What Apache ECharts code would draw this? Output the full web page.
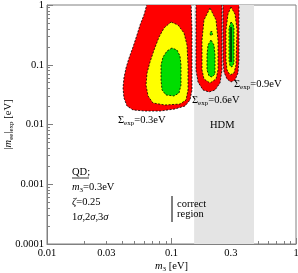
<!DOCTYPE html>
<html><head><meta charset="utf-8">
<script src="https://cdn.jsdelivr.net/npm/echarts@6/dist/echarts.min.js"></script>
<style>html,body{margin:0;padding:0;background:#fff}#c{width:298px;height:273px}</style>
</head><body><div id="c"></div>
<script>
// ---- tick labels ----
const xTickLabels = [0.01, 0.03, 0.1, 0.3, 1];
const yTickLabels = [0.0001, 0.001, 0.01, 0.1, 1];
const xMajor = [0.01, 0.1, 1];
const yMajor = [0.0001, 0.001, 0.01, 0.1, 1];
// ---- HDM band (m3 range) ----
const hdmRange = [0.152, 0.46];
// ---- contours [m3, |mee|] ----
const red1 = [[0.0648,1.2],[0.0601,0.6805],[0.0559,0.4627],[0.0528,0.3147],[0.0491,0.1982],[0.0456,0.1297],[0.0431,0.0882],[0.0415,0.0600],[0.0408,0.0408],[0.0415,0.0278],[0.0439,0.0204],[0.0491,0.0175],[0.0613,0.0168],[0.0809,0.0168],[0.1067,0.0182],[0.1284,0.0204],[0.1408,0.0257],[0.1461,0.0378],[0.1461,0.1201],[0.1461,0.3815],[0.1434,1.2]];
const yellow1 = [[0.0991,0.5193],[0.0871,0.4121],[0.0794,0.2913],[0.0724,0.1766],[0.0672,0.1112],[0.0636,0.0728],[0.0624,0.0458],[0.0648,0.0300],[0.0710,0.0229],[0.0887,0.0212],[0.1170,0.0220],[0.1308,0.0257],[0.1357,0.0378],[0.1357,0.0990],[0.1332,0.2141],[0.1260,0.3399],[0.1128,0.4627]];
const green1 = [[0.1009,0.1907],[0.0920,0.1699],[0.0855,0.1348],[0.0824,0.0990],[0.0824,0.0556],[0.0839,0.0378],[0.0903,0.0312],[0.1047,0.0300],[0.1149,0.0337],[0.1192,0.0458],[0.1192,0.0990],[0.1170,0.1401],[0.1107,0.1766]];
const red2 = [[0.1573,1.2],[0.1573,0.2595],[0.1573,0.0817],[0.1633,0.0514],[0.1791,0.0378],[0.2001,0.0350],[0.2236,0.0378],[0.2453,0.0495],[0.2544,0.0817],[0.2544,0.2595],[0.2544,1.2]];
const yellow2 = [[0.2038,0.89],[0.1824,0.5610],[0.1758,0.2595],[0.1758,0.0817],[0.1824,0.0577],[0.2038,0.0495],[0.2278,0.0577],[0.2363,0.0817],[0.2363,0.2595],[0.2278,0.5610]];
const green2 = [[0.2076,0.2595],[0.1964,0.2141],[0.1928,0.1456],[0.1928,0.0817],[0.2001,0.0648],[0.2115,0.0624],[0.2236,0.0700],[0.2236,0.1456],[0.2195,0.2141]];
const green2b = [[0.2058,0.355],[0.2115,0.36],[0.2140,0.325],[0.2076,0.305],[0.2035,0.33]];
const red3 = [[0.2593,1.2],[0.2593,0.1201],[0.2641,0.0756],[0.2791,0.0577],[0.3006,0.0514],[0.3236,0.0556],[0.3420,0.0728],[0.3484,0.1201],[0.3484,1.2]];
const yellow3 = [[0.3006,0.926],[0.2843,0.7067],[0.2741,0.3815],[0.2741,0.1201],[0.2791,0.0817],[0.2951,0.0674],[0.3177,0.0728],[0.3296,0.0990],[0.3358,0.3815],[0.3236,0.7067]];
const green3 = [[0.3006,0.5193],[0.2896,0.4121],[0.2896,0.1201],[0.2951,0.0953],[0.3062,0.0917],[0.3177,0.1069],[0.3177,0.4121],[0.3119,0.4808]];
const core3 = [[0.3006,0.428],[0.3006,0.111]];

const RED = '#ff0000', YEL = '#ffff00', GRN = '#00dd00';
const hdm = [[hdmRange[0],1e-4],[hdmRange[1],1e-4],[hdmRange[1],1],[hdmRange[0],1]];
const polys = [
  {pts: hdm, fill: '#e4e4e4', stroke: null},
  {pts: red1, fill: RED, stroke: '#000'},
  {pts: red2, fill: RED, stroke: '#000'},
  {pts: red3, fill: RED, stroke: '#000'},
  {pts: yellow1, fill: YEL, stroke: '#000'},
  {pts: yellow2, fill: YEL, stroke: '#000'},
  {pts: yellow3, fill: YEL, stroke: '#000'},
  {pts: green1, fill: GRN, stroke: '#000'},
  {pts: green2, fill: GRN, stroke: '#000'},
  {pts: green2b, fill: GRN, stroke: '#000'},
  {pts: green3, fill: GRN, stroke: '#000'}
];

function minorList(lo, hi) {
  const out = [];
  for (let d = lo; d < hi * 0.999; d *= 10) {
    for (let k = 1; k <= 9; k++) out.push(+(d * k).toPrecision(3));
  }
  out.push(hi);
  return out;
}
const FONT = 'Liberation Serif';
const GRAY = '#808080';
const baseTxt = {fontFamily: FONT, fontSize: 10.5, color: '#000'};
const rich = {
  n: {fontFamily: FONT, fontSize: 10.5, fill: '#000', color:'#000', lineHeight: 14},
  i: {fontFamily: FONT, fontSize: 10.5, fontStyle: 'italic', fill: '#000', color:'#000', lineHeight: 14},
  s: {fontFamily: FONT, fontSize: 7, fill: '#000', color:'#000', verticalAlign: 'bottom'}
};

const chart = echarts.init(document.getElementById('c'), null, {renderer: 'canvas'});
const axisCommon = {
  type: 'log', logBase: 10,
  axisLine: {show: true, lineStyle: {color: GRAY, width: 1}},
  splitLine: {show: false}, minorTick: {show: false}
};
chart.setOption({
  animation: false,
  grid: {left: 47, right: 2, top: 5, bottom: 29, show: true, borderColor: GRAY, borderWidth: 1, backgroundColor: 'transparent', outerBoundsMode: 'none', containLabel: false},
  xAxis: [
    Object.assign({}, axisCommon, {
      min: 0.01, max: 1, position: 'bottom',
      name: '{i|m}{s|3}{n| [eV]}', nameLocation: 'middle', nameGap: 15, nameMoveOverlap: false,
      nameTextStyle: {rich: rich},
      axisTick: {show: true, inside: true, length: 3, lineStyle: {color: GRAY}, customValues: minorList(0.01, 1)},
      axisLabel: Object.assign({margin: 4, customValues: xTickLabels, formatter: v => String(v)}, baseTxt)
    }),
    Object.assign({}, axisCommon, {
      min: 0.01, max: 1, position: 'bottom', gridIndex: 0,
      axisLine: {show: false},
      axisTick: {show: true, inside: true, length: 6, lineStyle: {color: GRAY}, customValues: xMajor},
      axisLabel: {show: false}
    })
  ],
  yAxis: [
    Object.assign({}, axisCommon, {
      min: 0.0001, max: 1, position: 'left',
      name: '{n||}{i|m}{s|ee}{n||}{s|exp}{n| [eV]}', nameLocation: 'middle', nameGap: 32, nameMoveOverlap: false,
      nameTextStyle: {rich: rich},
      axisTick: {show: true, inside: true, length: 3, lineStyle: {color: GRAY}, customValues: minorList(0.0001, 1)},
      axisLabel: Object.assign({margin: 3, customValues: yTickLabels, formatter: v => String(v)}, baseTxt)
    }),
    Object.assign({}, axisCommon, {
      min: 0.0001, max: 1, position: 'left', gridIndex: 0,
      axisLine: {show: false},
      axisTick: {show: true, inside: true, length: 6, lineStyle: {color: GRAY}, customValues: yMajor},
      axisLabel: {show: false}
    })
  ],
  series: [
    {
      type: 'custom', coordinateSystem: 'cartesian2d', clip: true, silent: true,
      xAxisIndex: 0, yAxisIndex: 0,
      data: polys.map((p, i) => [p.pts[0][0], Math.min(p.pts[0][1], 1), i]),
      encode: {x: 0, y: 1},
      renderItem: function (params, api) {
        const p = polys[api.value(2)];
        return {
          type: 'polygon',
          shape: {points: p.pts.map(q => api.coord(q))},
          style: p.stroke ? {fill: p.fill, stroke: p.stroke, lineWidth: 0.8, lineDash: [2, 1.5]} : {fill: p.fill, stroke: null}
        };
      }
    },
    {
      type: 'line', xAxisIndex: 0, yAxisIndex: 0, data: core3, symbol: 'none', silent: true,
      lineStyle: {color: '#000', width: 1.3}
    }
  ],
  graphic: [
    {type: 'text', z: 100, x: 118, y: 120, style: {text: '{n|Σ}{s|exp}{n|=0.3eV}', rich: rich, verticalAlign: 'middle'}},
    {type: 'text', z: 100, x: 192, y: 100, style: {text: '{n|Σ}{s|exp}{n|=0.6eV}', rich: rich, verticalAlign: 'middle'}},
    {type: 'text', z: 100, x: 234, y: 84, style: {text: '{n|Σ}{s|exp}{n|=0.9eV}', rich: rich, verticalAlign: 'middle'}},
    {type: 'text', z: 100, x: 210, y: 125, style: {text: 'HDM', font: '10.5px "Liberation Serif"', fill: '#000', verticalAlign: 'middle'}},
    {type: 'text', z: 100, x: 72, y: 172, style: {text: 'QD;', font: '10.5px "Liberation Serif"', fill: '#000', verticalAlign: 'middle'}},
    {type: 'line', z: 100, shape: {x1: 72, y1: 178, x2: 89, y2: 178}, style: {stroke: '#000', lineWidth: 0.8}},
    {type: 'text', z: 100, x: 72, y: 187, style: {text: '{i|m}{s|3}{n|=0.3eV}', rich: rich, verticalAlign: 'middle'}},
    {type: 'text', z: 100, x: 72, y: 202, style: {text: '{i|ζ}{n|=0.25}', rich: rich, verticalAlign: 'middle'}},
    {type: 'text', z: 100, x: 72, y: 217, style: {text: '{n|1}{i|σ}{n|,2}{i|σ}{n|,3}{i|σ}', rich: rich, verticalAlign: 'middle'}},
    {type: 'line', z: 100, shape: {x1: 172, y1: 196, x2: 172, y2: 222}, style: {stroke: '#000', lineWidth: 1}},
    {type: 'text', z: 100, x: 177, y: 204, style: {text: 'correct', font: '10.5px "Liberation Serif"', fill: '#000', verticalAlign: 'middle'}},
    {type: 'text', z: 100, x: 177, y: 214, style: {text: 'region', font: '10.5px "Liberation Serif"', fill: '#000', verticalAlign: 'middle'}}
  ]
});
</script></body></html>
